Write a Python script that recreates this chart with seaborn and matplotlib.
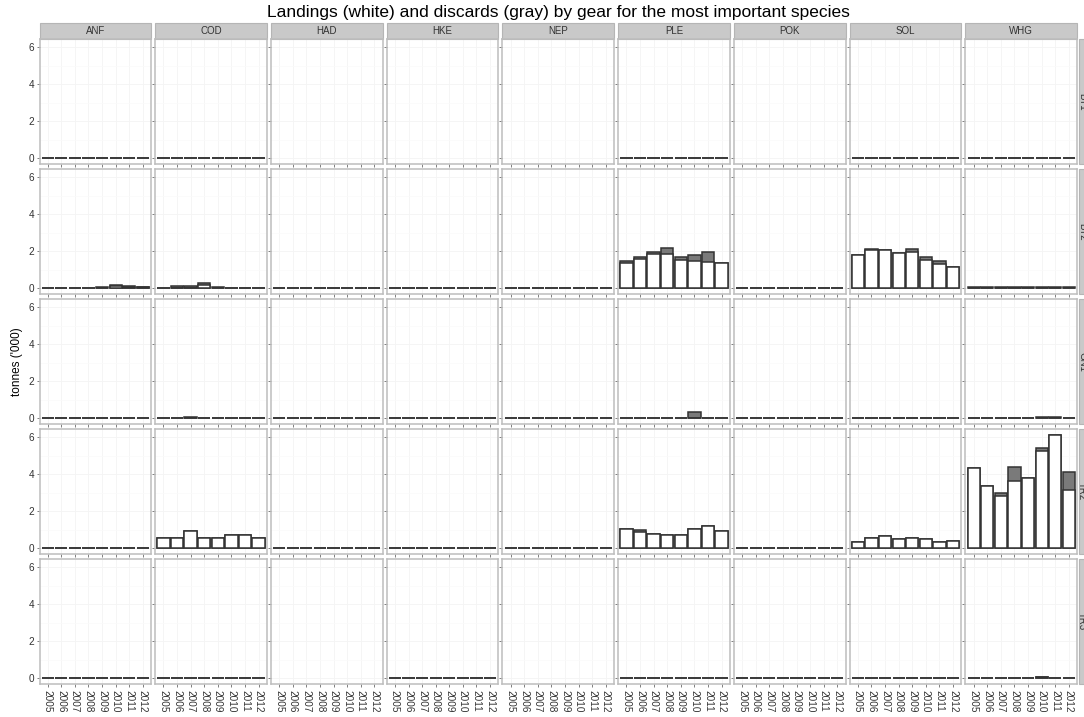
import pandas as pd
import seaborn as sns
import matplotlib.pyplot as plt
from matplotlib.patches import Rectangle
from matplotlib.ticker import MultipleLocator

# ---- data (tonnes '000) ----
years = [2005, 2006, 2007, 2008, 2009, 2010, 2011, 2012]
species = ["ANF", "COD", "HAD", "HKE", "NEP", "PLE", "POK", "SOL", "WHG"]
gears = ["BT1", "BT2", "GN1", "TR2", "TR3"]

# species with records for each gear (missing ones stay empty)
bt1_species = ["ANF", "COD", "PLE", "SOL", "WHG"]
bt2_species = ["ANF", "COD", "HAD", "HKE", "NEP", "PLE", "POK", "SOL", "WHG"]
gn1_species = ["ANF", "COD", "HAD", "HKE", "NEP", "PLE", "POK", "SOL", "WHG"]
tr2_species = ["ANF", "COD", "HAD", "HKE", "NEP", "PLE", "POK", "SOL", "WHG"]
tr3_species = ["ANF", "COD", "HKE", "PLE", "POK", "SOL", "WHG"]

zeros = [0, 0, 0, 0, 0, 0, 0, 0]

bt2_anf_land = [0.01, 0.01, 0.03, 0.03, 0.04, 0.14, 0.09, 0.05]
bt2_anf_disc = [0.00, 0.01, 0.01, 0.01, 0.01, 0.02, 0.02, 0.01]
bt2_cod_land = [0.01, 0.03, 0.04, 0.18, 0.04, 0.02, 0.02, 0.02]
bt2_cod_disc = [0.01, 0.07, 0.08, 0.10, 0.03, 0.01, 0.01, 0.01]
bt2_ple_land = [1.35, 1.57, 1.84, 1.84, 1.51, 1.48, 1.42, 1.39]
bt2_ple_disc = [0.12, 0.12, 0.12, 0.32, 0.20, 0.31, 0.54, 0.00]
bt2_sol_land = [1.80, 2.05, 2.05, 1.90, 1.95, 1.53, 1.33, 1.14]
bt2_sol_disc = [0.00, 0.05, 0.03, 0.02, 0.15, 0.15, 0.15, 0.00]
bt2_whg_land = [0.02, 0.03, 0.03, 0.03, 0.03, 0.03, 0.02, 0.03]
bt2_whg_disc = [0.03, 0.04, 0.04, 0.04, 0.03, 0.04, 0.04, 0.04]

gn1_cod_land = [0.00, 0.00, 0.03, 0.02, 0.00, 0.00, 0.00, 0.01]
gn1_cod_disc = [0.00, 0.00, 0.05, 0.02, 0.00, 0.00, 0.01, 0.00]
gn1_ple_land = [0.00, 0.00, 0.00, 0.00, 0.00, 0.02, 0.02, 0.00]
gn1_ple_disc = [0.00, 0.00, 0.00, 0.00, 0.00, 0.34, 0.01, 0.00]
gn1_pok_land = [0.00, 0.00, 0.00, 0.00, 0.00, 0.02, 0.00, 0.00]
gn1_whg_land = [0.00, 0.00, 0.00, 0.00, 0.00, 0.03, 0.03, 0.00]
gn1_whg_disc = [0.00, 0.00, 0.00, 0.00, 0.00, 0.02, 0.02, 0.00]

tr2_cod_land = [0.56, 0.58, 0.95, 0.58, 0.58, 0.74, 0.70, 0.54]
tr2_ple_land = [1.03, 0.86, 0.77, 0.72, 0.70, 1.05, 1.20, 0.92]
tr2_ple_disc = [0.00, 0.13, 0.00, 0.00, 0.00, 0.00, 0.00, 0.00]
tr2_sol_land = [0.32, 0.54, 0.67, 0.50, 0.54, 0.52, 0.36, 0.40]
tr2_whg_land = [4.34, 3.35, 2.85, 3.66, 3.80, 5.24, 6.14, 3.14]
tr2_whg_disc = [0.00, 0.00, 0.16, 0.72, 0.00, 0.18, 0.00, 0.97]

tr3_cod_land = [0.00, 0.00, 0.00, 0.00, 0.00, 0.01, 0.00, 0.00]
tr3_ple_land = [0.00, 0.00, 0.00, 0.00, 0.00, 0.02, 0.02, 0.00]
tr3_whg_land = [0.00, 0.00, 0.00, 0.00, 0.00, 0.08, 0.00, 0.00]

catches = {
    ("BT2", "ANF"): (bt2_anf_land, bt2_anf_disc),
    ("BT2", "COD"): (bt2_cod_land, bt2_cod_disc),
    ("BT2", "PLE"): (bt2_ple_land, bt2_ple_disc),
    ("BT2", "SOL"): (bt2_sol_land, bt2_sol_disc),
    ("BT2", "WHG"): (bt2_whg_land, bt2_whg_disc),
    ("GN1", "COD"): (gn1_cod_land, gn1_cod_disc),
    ("GN1", "PLE"): (gn1_ple_land, gn1_ple_disc),
    ("GN1", "POK"): (gn1_pok_land, zeros),
    ("GN1", "WHG"): (gn1_whg_land, gn1_whg_disc),
    ("TR2", "COD"): (tr2_cod_land, zeros),
    ("TR2", "PLE"): (tr2_ple_land, tr2_ple_disc),
    ("TR2", "SOL"): (tr2_sol_land, zeros),
    ("TR2", "WHG"): (tr2_whg_land, tr2_whg_disc),
    ("TR3", "COD"): (tr3_cod_land, zeros),
    ("TR3", "PLE"): (tr3_ple_land, zeros),
    ("TR3", "WHG"): (tr3_whg_land, zeros),
}
present = [bt1_species, bt2_species, gn1_species, tr2_species, tr3_species]

records = []
for gear, sp_list in zip(gears, present):
    for sp in sp_list:
        land, disc = catches.get((gear, sp), (zeros, zeros))
        for yr, l, d in zip(years, land, disc):
            records.append({"gear": gear, "species": sp, "year": str(yr),
                            "landings": l, "total": l + d})
df = pd.DataFrame(records)
year_labels = [str(y) for y in years]

# ---- plot ----
sns.set_theme(style="white")
plt.rcParams['font.family'] = ['Liberation Sans', 'DejaVu Sans']

edge = "#333333"
disc_gray = "#7a7a7a"


def stacked(data, **kws):
    ax = plt.gca()
    sns.barplot(data=data, x="year", y="total", order=year_labels, color=disc_gray,
                saturation=1, width=0.9, edgecolor=edge, linewidth=1.1,
                errorbar=None, ax=ax)
    sns.barplot(data=data, x="year", y="landings", order=year_labels, color="white",
                saturation=1, width=0.9, edgecolor=edge, linewidth=1.1,
                errorbar=None, ax=ax)


g = sns.FacetGrid(df, row="gear", col="species", row_order=gears, col_order=species,
                  sharex=True, sharey=True, despine=False, margin_titles=False,
                  height=1.3, aspect=0.9)
g.map_dataframe(stacked)

fig = g.figure
fig.set_size_inches(10.84, 7.17)
W, H = 1084, 717
fig.subplots_adjust(left=39.5 / W, right=1077 / W, top=1 - 39 / H, bottom=1 - 684 / H,
                    wspace=0.038, hspace=0.04)

nrow, ncol = g.axes.shape
for i in range(nrow):
    for j in range(ncol):
        ax = g.axes[i, j]
        ax.set_title("")
        ax.set_xlabel("")
        ax.set_ylabel("")
        ax.set_xlim(-0.6, 7.6)
        ax.set_ylim(-0.31, 6.45)
        ax.set_xticks(range(len(years)))
        ax.set_xticklabels(year_labels)
        ax.set_yticks([0, 2, 4, 6])
        ax.yaxis.set_minor_locator(MultipleLocator(1))
        ax.set_axisbelow(True)
        ax.grid(which="major", color="#f4f4f4", linewidth=0.6)
        ax.grid(which="minor", axis="y", color="#fafafa", linewidth=0.5)
        for s in ax.spines.values():
            s.set_color("#bdbdbd")
            s.set_linewidth(1.1)
        ax.tick_params(which="major", direction="out", length=2.5, width=0.7,
                       color="#7f7f7f", labelsize=7.2, labelcolor="#333333",
                       pad=1.5, bottom=True, left=True,
                       labelbottom=(i == nrow - 1), labelleft=(j == 0))
        ax.tick_params(which="minor", length=0)
        ax.tick_params(axis="x", labelrotation=-90)

        # column strips
        if i == 0:
            ax.add_patch(Rectangle((0, 1.0), 1, 16 / 125, transform=ax.transAxes,
                                   clip_on=False, facecolor="#c9c9c9",
                                   edgecolor="#b5b5b5", linewidth=0.8))
            ax.text(0.5, 1 + 8 / 125, species[j], transform=ax.transAxes,
                    ha="center", va="center", fontsize=7, color="#333333")
        # row strips (clipped by the figure edge, as in the original)
        if j == ncol - 1:
            ax.add_patch(Rectangle((1 + 2 / 111.5, 0), 16 / 111.5, 1,
                                   transform=ax.transAxes, clip_on=False,
                                   facecolor="#c9c9c9", edgecolor="#b5b5b5",
                                   linewidth=0.8))
            ax.text(1 + 5 / 111.5, 0.5, gears[i], transform=ax.transAxes,
                    ha="center", va="center", rotation=-90, fontsize=7,
                    color="#333333")

fig.text((39.5 + 1077) / 2 / W, 1 - 12 / H,
         "Landings (white) and discards (gray) by gear for the most important species",
         ha="center", va="center", fontsize=12.5, color="black")
fig.text(17 / W, 1 - 362 / H, "tonnes ('000)", rotation=90, ha="center",
         va="center", fontsize=8.5, color="black")

fig.savefig("out.png", dpi=100)
